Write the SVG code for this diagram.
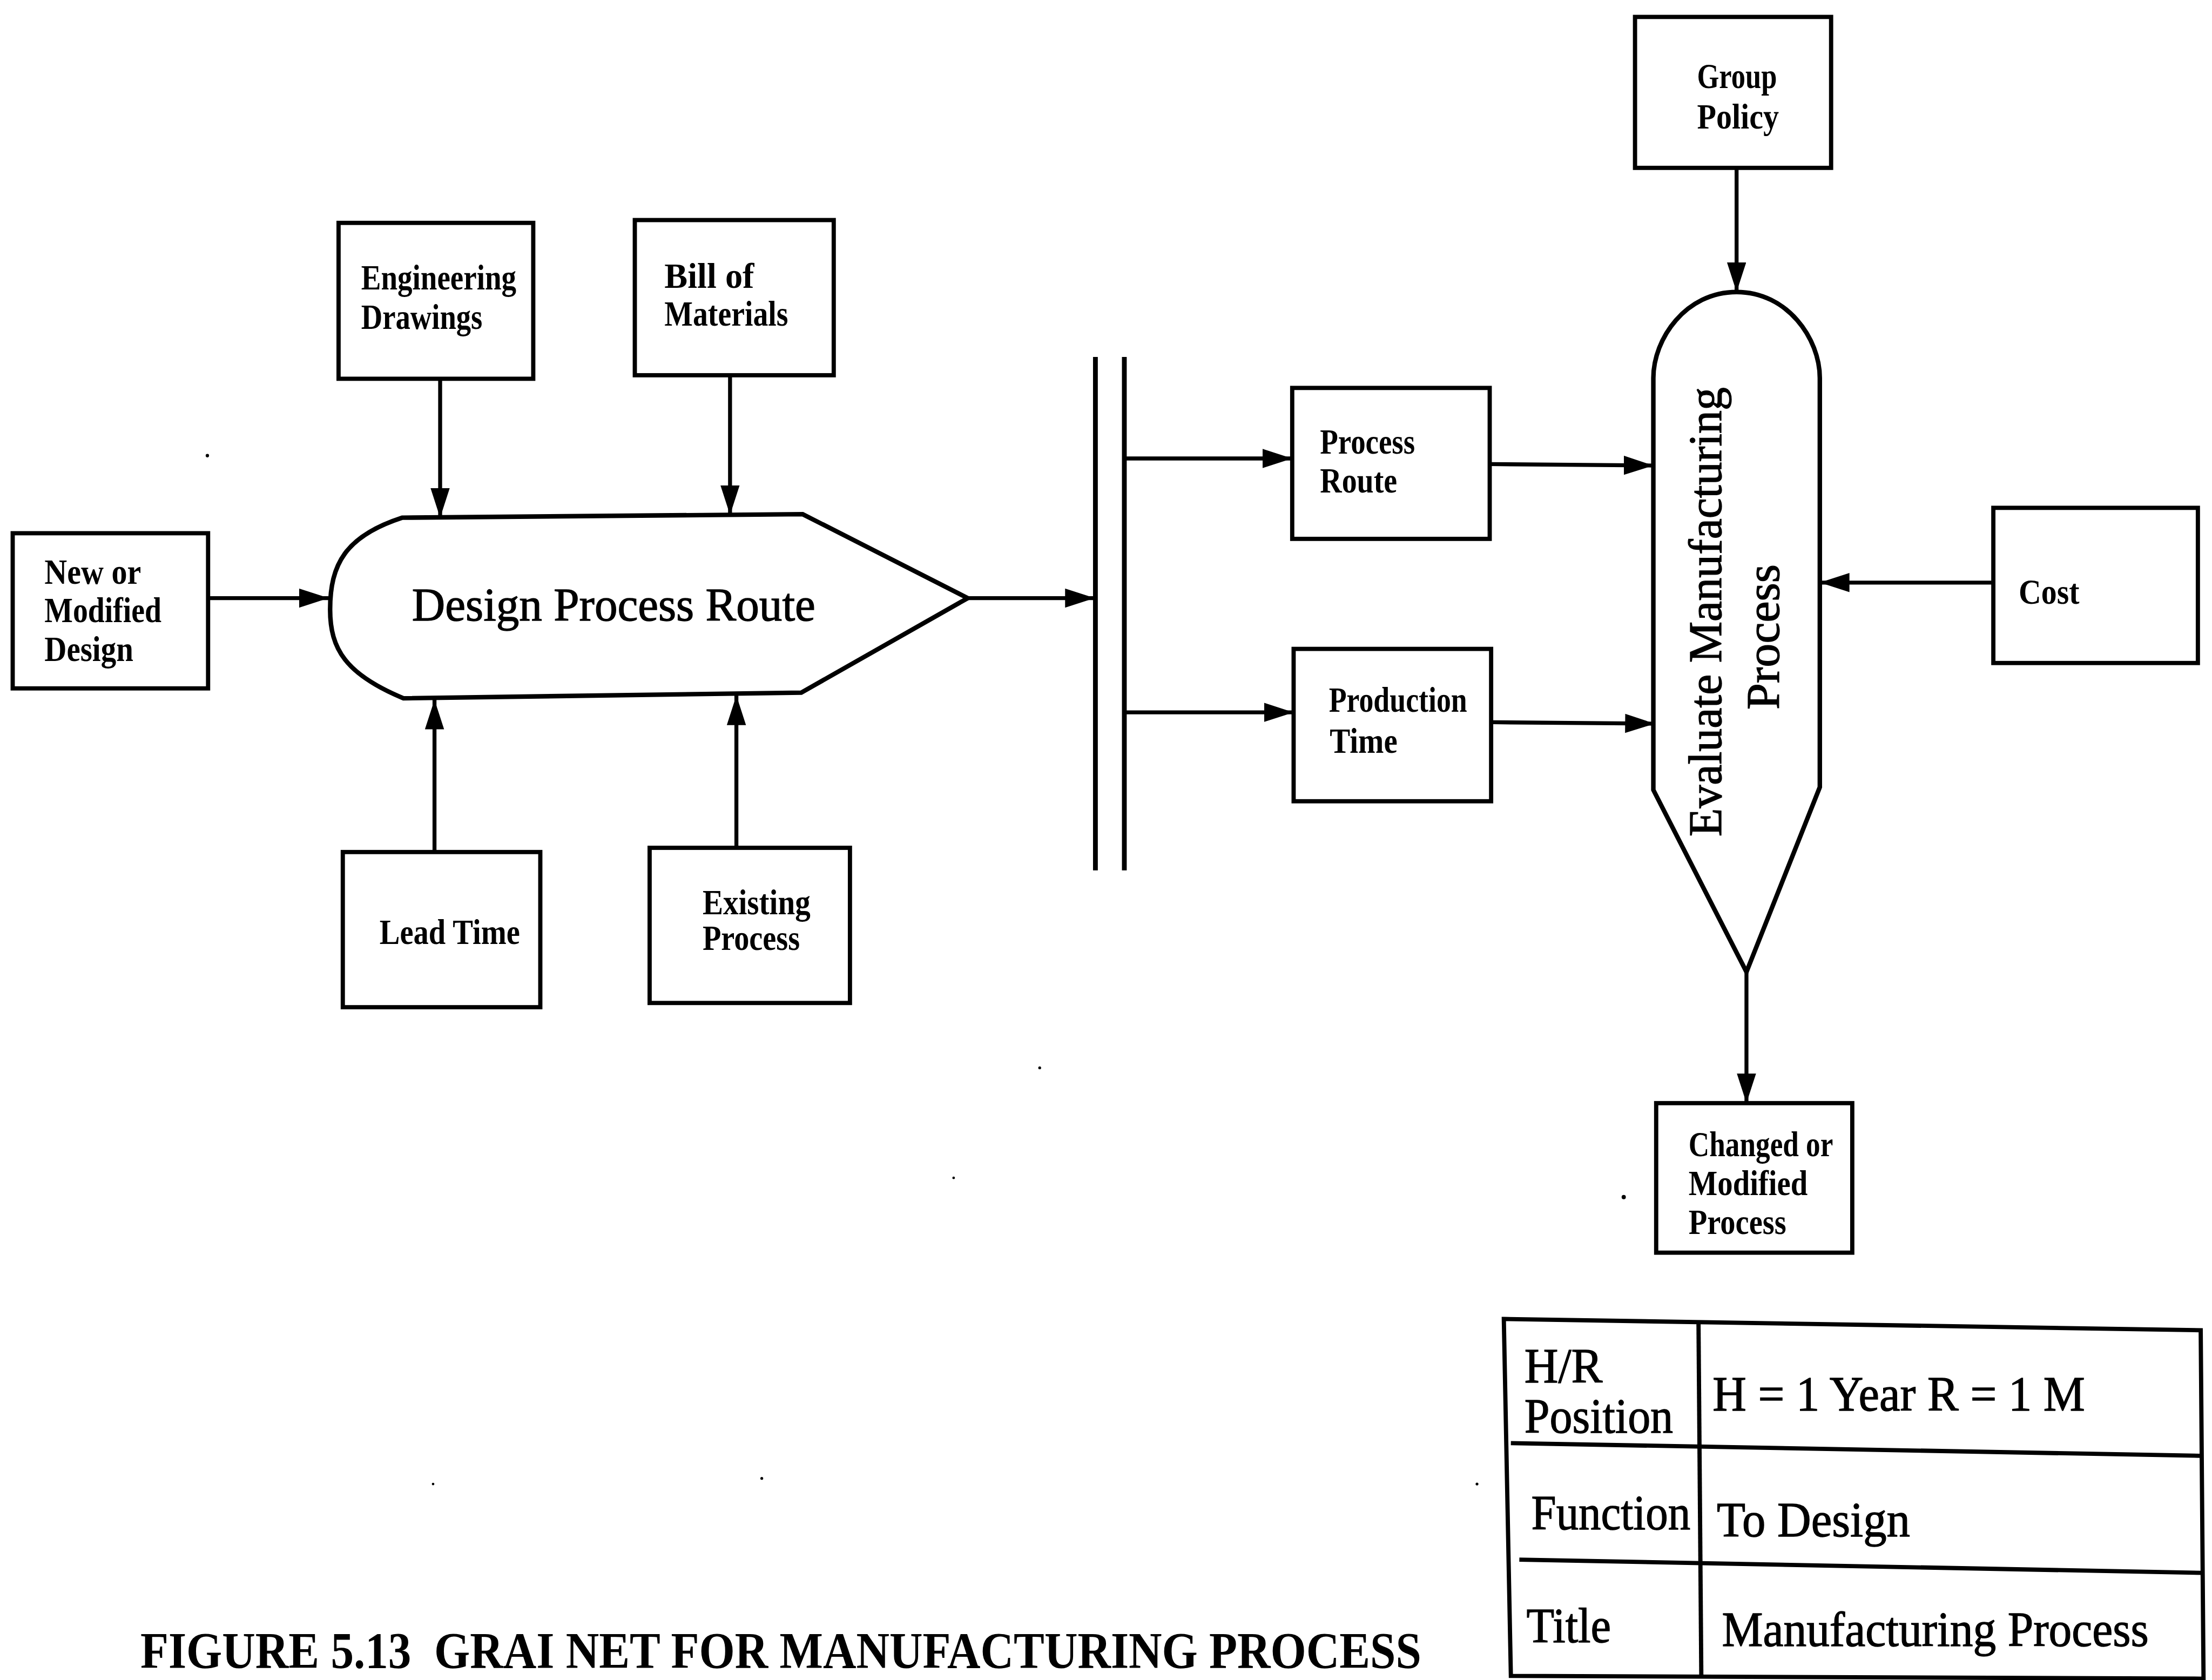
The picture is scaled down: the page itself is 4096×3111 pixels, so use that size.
<svg xmlns="http://www.w3.org/2000/svg" width="4096" height="3111" viewBox="0 0 4096 3111">
  <style>
    .box { fill: #fff; stroke: #000; stroke-width: 3; }
    .shape { fill: #fff; stroke: #000; stroke-width: 3.2; stroke-linejoin: miter; }
    .arrow { fill: none; stroke: #000; stroke-width: 2.8; marker-end: url(#head); }
    .bar { stroke: #000; stroke-width: 3.4; }
    .rule { fill: none; stroke: #000; stroke-width: 3; }
    .lbl { font-family: "Liberation Serif", "Times New Roman", serif; font-weight: bold; font-size: 25px; fill: #000; }
    .big { font-family: "Liberation Serif", "Times New Roman", serif; font-size: 33px; fill: #000; stroke: #000; stroke-width: 0.5; }
    .tbl { font-family: "Liberation Serif", "Times New Roman", serif; font-size: 35px; fill: #000; stroke: #000; stroke-width: 0.5; }
    .cap { font-family: "Liberation Serif", "Times New Roman", serif; font-weight: bold; font-size: 32.6px; fill: #000; }
    .speck { fill: #000; }
  </style>
  <defs>
    <marker id="head" markerUnits="userSpaceOnUse" markerWidth="22" markerHeight="14" refX="21" refY="6.8" orient="auto">
      <path d="M0,0 L21,6.8 L0,13.6 Z" fill="#000"/>
    </marker>
  </defs>
  <rect width="4096" height="3111" fill="#fff"/>
  <g transform="scale(2.61224)">
    <!-- connectors -->
    <g id="connectors">
      <line class="arrow" x1="147" y1="424" x2="233" y2="424"/>
      <line class="arrow" x1="312" y1="268" x2="312" y2="367"/>
      <line class="arrow" x1="517.5" y1="266" x2="517.5" y2="365"/>
      <line class="arrow" x1="308" y1="604" x2="308" y2="496"/>
      <line class="arrow" x1="522" y1="601" x2="522" y2="493"/>
      <line class="arrow" x1="686" y1="424" x2="776" y2="424"/>
      <line class="bar" x1="776.5" y1="253" x2="776.5" y2="617"/>
      <line class="bar" x1="797" y1="253" x2="797" y2="617"/>
      <line class="arrow" x1="797" y1="325" x2="916" y2="325"/>
      <line class="arrow" x1="797" y1="505" x2="917" y2="505"/>
      <line class="arrow" x1="1056" y1="329" x2="1172" y2="330"/>
      <line class="arrow" x1="1058" y1="512" x2="1173" y2="513"/>
      <line class="arrow" x1="1231" y1="119" x2="1231" y2="207"/>
      <line class="arrow" x1="1413" y1="413" x2="1290" y2="413"/>
      <line class="arrow" x1="1238" y1="689" x2="1238" y2="782"/>
    </g>

    <!-- inputs and supports -->
    <g id="new-design">
      <rect class="box" x="9" y="378" width="138.5" height="110"/>
      <text class="lbl" font-size="27" x="31.5" y="414" textLength="68.5" lengthAdjust="spacingAndGlyphs">New or</text>
      <text class="lbl" font-size="27" x="31.5" y="441" textLength="83" lengthAdjust="spacingAndGlyphs">Modified</text>
      <text class="lbl" font-size="27" x="31.5" y="468.5" textLength="63" lengthAdjust="spacingAndGlyphs">Design</text>
    </g>
    <g id="engineering-drawings">
      <rect class="box" x="240" y="158" width="138" height="110.5"/>
      <text class="lbl" x="256" y="205" textLength="110" lengthAdjust="spacingAndGlyphs">Engineering</text>
      <text class="lbl" x="256" y="233" textLength="86" lengthAdjust="spacingAndGlyphs">Drawings</text>
    </g>
    <g id="bill-of-materials">
      <rect class="box" x="450" y="156" width="141" height="110"/>
      <text class="lbl" x="471" y="204" textLength="63.6" lengthAdjust="spacingAndGlyphs">Bill of</text>
      <text class="lbl" x="471" y="231" textLength="87.7" lengthAdjust="spacingAndGlyphs">Materials</text>
    </g>
    <g id="lead-time">
      <rect class="box" x="243" y="604" width="140" height="110"/>
      <text class="lbl" x="269" y="669" textLength="99.6" lengthAdjust="spacingAndGlyphs">Lead Time</text>
    </g>
    <g id="existing-process">
      <rect class="box" x="460.5" y="601" width="142" height="110"/>
      <text class="lbl" x="498" y="648" textLength="76.5" lengthAdjust="spacingAndGlyphs">Existing</text>
      <text class="lbl" x="498" y="673.5" textLength="69" lengthAdjust="spacingAndGlyphs">Process</text>
    </g>

    <!-- decision centre: design -->
    <g id="design-process-route">
      <path class="shape" d="M285,367 L569,364.5 L686,424 L568,491 L286,495 C245,478 234,460 234,432 C234,400 245,380 285,367 Z"/>
      <text class="big" x="292" y="439.7" textLength="286" lengthAdjust="spacingAndGlyphs">Design Process Route</text>
    </g>

    <!-- results of design -->
    <g id="process-route">
      <rect class="box" x="916" y="275" width="140" height="107"/>
      <text class="lbl" font-size="24" x="935.7" y="321.7" textLength="67.3" lengthAdjust="spacingAndGlyphs">Process</text>
      <text class="lbl" font-size="24" x="935.7" y="349" textLength="54.7" lengthAdjust="spacingAndGlyphs">Route</text>
    </g>
    <g id="production-time">
      <rect class="box" x="917" y="460" width="140" height="108"/>
      <text class="lbl" font-size="24" x="942" y="504.5" textLength="98" lengthAdjust="spacingAndGlyphs">Production</text>
      <text class="lbl" font-size="24" x="942.6" y="533.5" textLength="48" lengthAdjust="spacingAndGlyphs">Time</text>
    </g>

    <!-- decision centre: evaluation -->
    <g id="group-policy">
      <rect class="box" x="1159" y="12" width="139" height="107"/>
      <text class="lbl" x="1203" y="62.3" textLength="56.6" lengthAdjust="spacingAndGlyphs">Group</text>
      <text class="lbl" x="1203" y="91" textLength="58" lengthAdjust="spacingAndGlyphs">Policy</text>
    </g>
    <g id="evaluate-manufacturing-process">
      <path class="shape" d="M1172,268 C1172,240 1195,207 1231,207 C1267,207 1290,240 1290,268 L1290,558 L1238,689 L1172,560 Z"/>
      <text class="big" font-size="32" transform="translate(1220,593) rotate(-90)" x="0" y="0" textLength="318.5" lengthAdjust="spacingAndGlyphs">Evaluate Manufacturing</text>
      <text class="big" font-size="32" transform="translate(1261,503) rotate(-90)" x="0" y="0" textLength="103" lengthAdjust="spacingAndGlyphs">Process</text>
    </g>
    <g id="cost">
      <rect class="box" x="1413" y="360" width="145" height="110"/>
      <text class="lbl" x="1431" y="428" textLength="43" lengthAdjust="spacingAndGlyphs">Cost</text>
    </g>
    <g id="changed-process">
      <rect class="box" x="1174" y="782" width="139" height="106"/>
      <text class="lbl" font-size="26" x="1197" y="819.5" textLength="102.4" lengthAdjust="spacingAndGlyphs">Changed or</text>
      <text class="lbl" font-size="26" x="1197" y="847" textLength="84.4" lengthAdjust="spacingAndGlyphs">Modified</text>
      <text class="lbl" font-size="26" x="1197" y="874.7" textLength="69.2" lengthAdjust="spacingAndGlyphs">Process</text>
    </g>

    <!-- horizon / period table -->
    <g id="grai-table">
      <path class="rule" d="M1066,935 L1560,943 L1562,1190 L1071,1188 Z"/>
      <line class="rule" x1="1204" y1="937" x2="1206" y2="1189"/>
      <line class="rule" x1="1071" y1="1023" x2="1560" y2="1032"/>
      <line class="rule" x1="1077" y1="1105.6" x2="1561" y2="1115"/>
      <text class="tbl" font-size="31" x="1080.6" y="980" textLength="55.4" lengthAdjust="spacingAndGlyphs">H/R</text>
      <text class="tbl" font-size="31" x="1080.6" y="1015.5" textLength="105.4" lengthAdjust="spacingAndGlyphs">Position</text>
      <text class="tbl" font-size="37" x="1214" y="1000" textLength="264" lengthAdjust="spacingAndGlyphs">H = 1 Year R = 1 M</text>
      <text class="tbl" font-size="36" x="1085.5" y="1084" textLength="112.8" lengthAdjust="spacingAndGlyphs">Function</text>
      <text class="tbl" font-size="34" x="1217" y="1089" textLength="137" lengthAdjust="spacingAndGlyphs">To Design</text>
      <text class="tbl" font-size="34" x="1082" y="1164" textLength="60" lengthAdjust="spacingAndGlyphs">Title</text>
      <text class="tbl" font-size="34" x="1220.6" y="1167" textLength="302.5" lengthAdjust="spacingAndGlyphs">Manufacturing Process</text>
    </g>

    <!-- caption, stretched upright to the tall narrow face of the print -->
    <text class="cap" transform="translate(99.5,1182.5) scale(1,1.13)" x="0" y="0" textLength="908" lengthAdjust="spacingAndGlyphs">FIGURE 5.13&#160; GRAI NET FOR MANUFACTURING PROCESS</text>

    <!-- stray print marks -->
    <g id="marks">
      <circle class="speck" cx="147" cy="323" r="1.2"/>
      <circle class="speck" cx="737" cy="757" r="1"/>
      <circle class="speck" cx="676" cy="835" r="0.9"/>
      <circle class="speck" cx="307" cy="1052" r="0.9"/>
      <circle class="speck" cx="540" cy="1048" r="1"/>
      <circle class="speck" cx="1047" cy="1052" r="1"/>
      <circle class="speck" cx="1151" cy="848.6" r="1.5"/>
    </g>
  </g>
</svg>
